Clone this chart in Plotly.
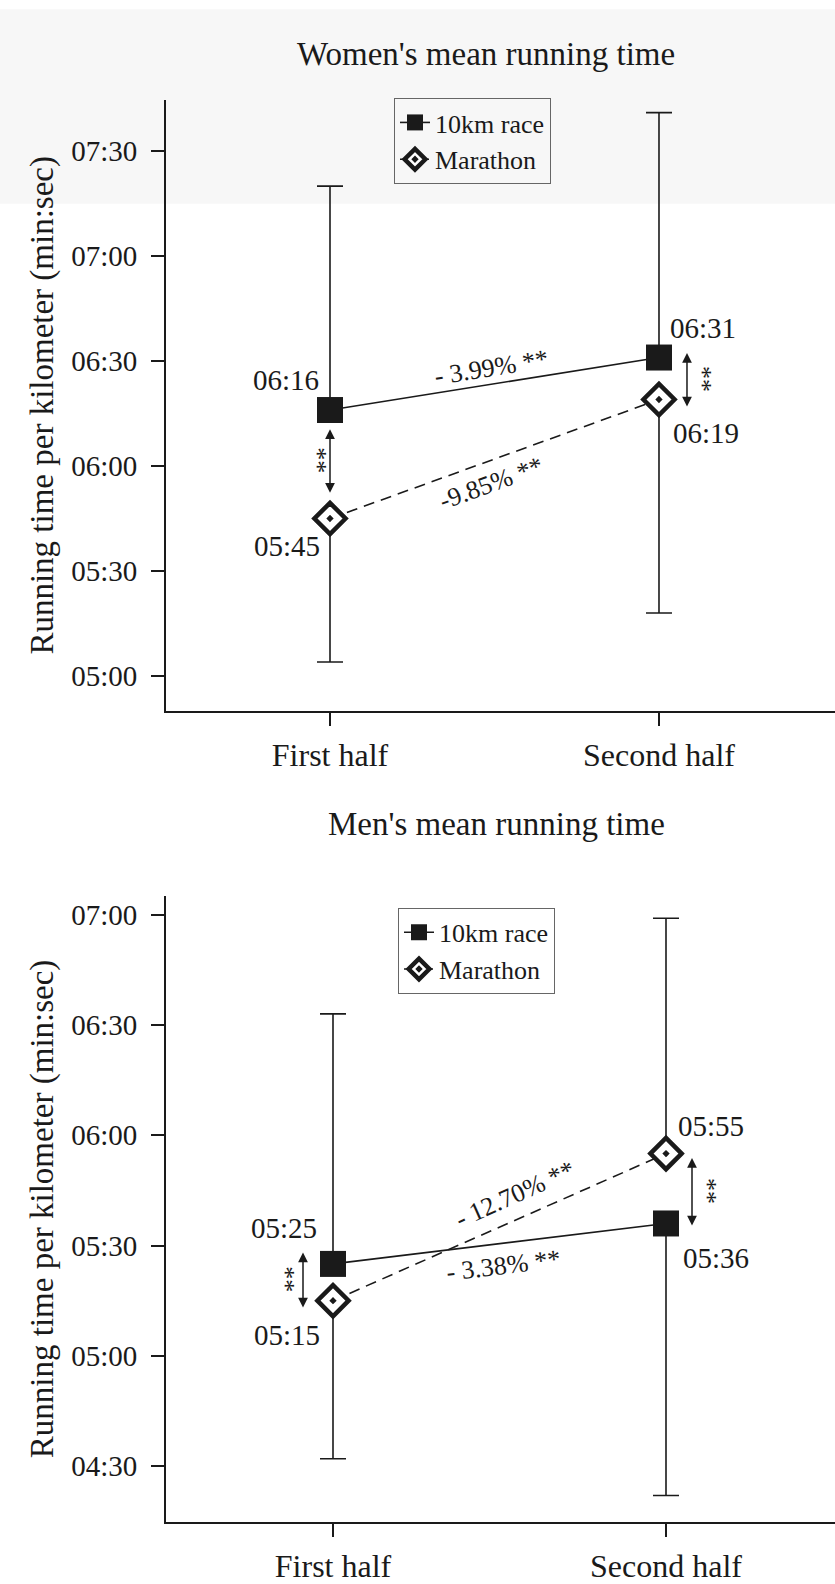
import math
import plotly.graph_objects as go

# ---------------- data (seconds per kilometre) ----------------
categories = ["First half", "Second half"]
cat_pos = [0, 1]

women_10km = [376, 391]          # 06:16, 06:31
women_marathon = [345, 379]      # 05:45, 06:19
women_10km_err_up = [64, 70]
women_10km_err_down = [0, 0]
women_mar_err_up = [0, 0]
women_mar_err_down = [41, 61]
women_ticks = [300, 330, 360, 390, 420, 450]
women_pct_10km = "- 3.99% **"
women_pct_mar = "-9.85% **"

men_10km = [325, 336]            # 05:25, 05:36
men_marathon = [315, 355]        # 05:15, 05:55
men_10km_err_up = [68, 0]
men_10km_err_down = [0, 74]
men_mar_err_up = [0, 64]
men_mar_err_down = [43, 0]
men_ticks = [270, 300, 330, 360, 390, 420]
men_pct_10km = "- 3.38% **"
men_pct_mar = "- 12.70% **"

series_names = ["10km race", "Marathon"]
titles = ["Women's mean running time", "Men's mean running time"]
y_title = "Running time per kilometer (min:sec)"


def fmt(sec):
    sec = int(round(sec))
    return f"{sec // 60:02d}:{sec % 60:02d}"


# ---------------- geometry / style ----------------
W, H = 835, 1584
MARGIN = dict(l=166, r=0, t=100, b=44)
PLOT_H = H - MARGIN["t"] - MARGIN["b"]
PLOT_W = W - MARGIN["l"] - MARGIN["r"]
FONT = "Liberation Serif"
INK = "#1a1a1a"

top_dom, bot_dom = [0.5706, 1.0], [0.0, 0.4403]
top_yr, bot_yr = [290.1, 464.6], [254.8, 425.1]
top_xr, bot_xr = [-0.4985, 1.535], [-0.5015, 1.5075]

fig = go.Figure()

panels = [
    dict(xa="x", ya="y", leg="legend", dom=top_dom, yr=top_yr, xr=top_xr,
         tenk=women_10km, mar=women_marathon,
         tu=women_10km_err_up, td=women_10km_err_down,
         mu=women_mar_err_up, md=women_mar_err_down,
         ticks=women_ticks, p10=women_pct_10km, pm=women_pct_mar, title=titles[0]),
    dict(xa="x2", ya="y2", leg="legend2", dom=bot_dom, yr=bot_yr, xr=bot_xr,
         tenk=men_10km, mar=men_marathon,
         tu=men_10km_err_up, td=men_10km_err_down,
         mu=men_mar_err_up, md=men_mar_err_down,
         ticks=men_ticks, p10=men_pct_10km, pm=men_pct_mar, title=titles[1]),
]

for p in panels:
    err_style = dict(type="data", symmetric=False, color=INK, thickness=1.6, width=13)
    fig.add_trace(go.Scatter(
        x=cat_pos, y=p["tenk"], name=series_names[0], mode="lines+markers",
        xaxis=p["xa"], yaxis=p["ya"], legend=p["leg"],
        line=dict(color=INK, width=1.6),
        marker=dict(symbol="square", size=26, color=INK, line=dict(width=0)),
        error_y=dict(array=p["tu"], arrayminus=p["td"], **err_style),
    ))
    fig.add_trace(go.Scatter(
        x=cat_pos, y=p["mar"], name=series_names[1], mode="lines+markers",
        xaxis=p["xa"], yaxis=p["ya"], legend=p["leg"],
        line=dict(color=INK, width=1.6, dash="11px,7px"),
        marker=dict(symbol="diamond-dot", size=24, color="white",
                    line=dict(color=INK, width=4.5)),
        error_y=dict(array=p["mu"], arrayminus=p["md"], **err_style),
    ))

annotations = []
shapes = []

# light scan tint at the very top of the page
shapes.append(dict(type="rect", xref="paper", yref="paper",
                   x0=-MARGIN["l"] / PLOT_W, x1=1.0,
                   y0=(H - MARGIN["b"] - 205) / PLOT_H, y1=(H - MARGIN["b"] - 8) / PLOT_H,
                   fillcolor="#f7f7f7", line=dict(width=0), layer="below"))

title_pos = [(486, 33), (496, 833)]

for i, p in enumerate(panels):
    xref, yref = p["xa"], p["ya"]
    pxps = (p["dom"][1] - p["dom"][0]) * PLOT_H / (p["yr"][1] - p["yr"][0])
    pxpu = PLOT_W / (p["xr"][1] - p["xr"][0])

    # panel title
    tx, ty = title_pos[i]
    annotations.append(dict(text=p["title"], xref="paper", yref="paper",
                            x=(tx - MARGIN["l"]) / PLOT_W,
                            y=(H - MARGIN["b"] - ty) / PLOT_H,
                            showarrow=False, font=dict(family=FONT, size=33, color=INK)))

    # value labels
    if i == 0:
        off_t = [(-44, 30), (44, 30)]
        off_m = [(-43, -27), (47, -33)]
    else:
        off_t = [(-49, 36), (50, -35)]
        off_m = [(-46, -34), (45, 28)]
    for k in range(2):
        annotations.append(dict(text=fmt(p["tenk"][k]), x=cat_pos[k], y=p["tenk"][k],
                                xref=xref, yref=yref, showarrow=False,
                                xshift=off_t[k][0], yshift=off_t[k][1],
                                font=dict(family=FONT, size=29, color=INK)))
        annotations.append(dict(text=fmt(p["mar"][k]), x=cat_pos[k], y=p["mar"][k],
                                xref=xref, yref=yref, showarrow=False,
                                xshift=off_m[k][0], yshift=off_m[k][1],
                                font=dict(family=FONT, size=29, color=INK)))

    # percentage labels along the connecting lines
    xm = (cat_pos[0] + cat_pos[1]) / 2
    for vals, text, (dx, dy) in (
        (p["tenk"], p["p10"], (-3, 16) if i == 0 else (4, -22)),
        (p["mar"], p["pm"], (-4, -24) if i == 0 else (15, 33)),
    ):
        ang = math.degrees(math.atan2((vals[1] - vals[0]) * pxps,
                                      (cat_pos[1] - cat_pos[0]) * pxpu))
        annotations.append(dict(text=text, x=xm, y=(vals[0] + vals[1]) / 2,
                                xref=xref, yref=yref, showarrow=False,
                                textangle=-ang, xshift=dx, yshift=dy,
                                font=dict(family=FONT, size=26, color=INK)))

    # double-headed significance arrows between the two races
    if i == 0:
        arrows = [  # (category, xshift, upper value, lower value)
            (0, 0, p["tenk"][0] - 18 / pxps, p["mar"][0] + 26 / pxps),
            (1, 28, p["tenk"][1] + 6 / pxps, p["mar"][1] - 7 / pxps),
        ]
        star_dx = [-12, 16]
    else:
        arrows = [
            (0, -30, p["tenk"][0] + 13 / pxps, p["mar"][0] - 7 / pxps),
            (1, 26, p["mar"][1] - 3 / pxps, p["tenk"][1] - 2 / pxps),
        ]
        star_dx = [-17, 16]
    for (k, xs, yhi, ylo), sdx in zip(arrows, star_dx):
        annotations.append(dict(text="", x=cat_pos[k], y=ylo, ax=cat_pos[k], ay=yhi,
                                xref=xref, yref=yref, axref=xref, ayref=yref,
                                showarrow=True, arrowside="end+start", arrowhead=2,
                                arrowsize=1.3, arrowwidth=1.5, arrowcolor=INK,
                                xshift=xs))
        annotations.append(dict(text="**", x=cat_pos[k], y=(yhi + ylo) / 2,
                                xref=xref, yref=yref, showarrow=False, textangle=90,
                                xshift=xs + sdx,
                                font=dict(family=FONT, size=26, color=INK)))

axis_common = dict(showline=True, linewidth=2, linecolor=INK, ticks="outside",
                   tickwidth=2, tickcolor=INK, showgrid=False, zeroline=False,
                   fixedrange=True)
xtickfont = dict(family=FONT, size=32, color=INK)
ytickfont = dict(family=FONT, size=29, color=INK)
ytitle = dict(text=y_title, standoff=8, font=dict(family=FONT, size=33, color=INK))
legend_common = dict(xanchor="left", yanchor="top", bordercolor="#666", borderwidth=1,
                     bgcolor="rgba(255,255,255,0)", tracegroupgap=0,
                     font=dict(family=FONT, size=26, color=INK))

layout = dict(
    width=W, height=H, margin=MARGIN,
    paper_bgcolor="white", plot_bgcolor="rgba(0,0,0,0)",
    font=dict(family=FONT, color=INK),
    showlegend=True,
    annotations=annotations, shapes=shapes,
    xaxis=dict(domain=[0, 1], anchor="y", range=top_xr, tickvals=cat_pos,
               ticktext=categories, ticklen=13, ticklabelstandoff=2,
               tickfont=xtickfont, **axis_common),
    yaxis=dict(domain=top_dom, anchor="x", range=top_yr, tickvals=women_ticks,
               ticktext=[fmt(v) for v in women_ticks], ticklen=13, ticklabelstandoff=8,
               tickfont=ytickfont, title=ytitle, **axis_common),
    xaxis2=dict(domain=[0, 1], anchor="y2", range=bot_xr, tickvals=cat_pos,
                ticktext=categories, ticklen=13, ticklabelstandoff=2,
                tickfont=xtickfont, **axis_common),
    yaxis2=dict(domain=bot_dom, anchor="x2", range=bot_yr, tickvals=men_ticks,
                ticktext=[fmt(v) for v in men_ticks], ticklen=13, ticklabelstandoff=8,
                tickfont=ytickfont, title=ytitle, **axis_common),
    legend=dict(x=(394 - MARGIN["l"]) / PLOT_W, y=(H - MARGIN["b"] - 98) / PLOT_H,
                **legend_common),
    legend2=dict(x=(398 - MARGIN["l"]) / PLOT_W, y=(H - MARGIN["b"] - 918) / PLOT_H,
                 **legend_common),
)
fig.update_layout(**layout)

fig.write_html("out.html", include_plotlyjs=True, config={"displayModeBar": False},
               post_script="document.body.style.margin='0';")
